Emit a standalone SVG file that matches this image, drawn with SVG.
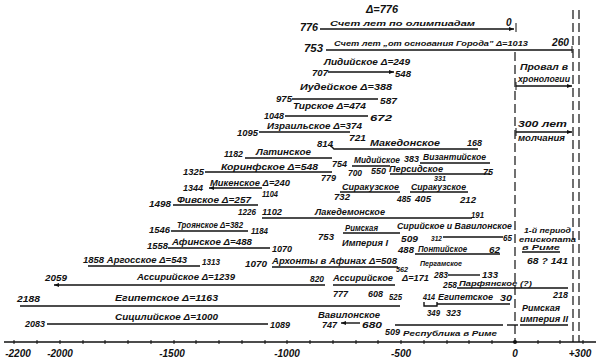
<svg xmlns="http://www.w3.org/2000/svg" width="600" height="363" viewBox="0 0 600 363">
<defs>
<marker id="ah" viewBox="0 0 10 10" refX="10" refY="5" markerWidth="6" markerHeight="5" orient="auto-start-reverse" markerUnits="userSpaceOnUse"><path d="M0,1 L10,5 L0,9 Z" fill="#111"/></marker>
<style>
.t{font-family:"Liberation Sans",Arial,sans-serif;font-style:italic;font-weight:bold;font-size:9px;fill:#111}
.s{font-size:8px}
.n{font-size:10px}
.b{stroke:#111;stroke-width:1.4;fill:none}
.d{stroke:#111;stroke-width:1.2;fill:none;stroke-dasharray:9 4}
.tk{stroke:#111;stroke-width:1}
</style>
</defs>
<rect width="600" height="363" fill="#fff"/>

<g id="axis">
<line class="b" x1="4" y1="342" x2="596" y2="342"/>
<g class="tk">
<line x1="14" y1="340" x2="14" y2="344"/><line x1="37" y1="340" x2="37" y2="344"/><line x1="60" y1="340" x2="60" y2="344"/><line x1="83" y1="340" x2="83" y2="344"/><line x1="105" y1="340" x2="105" y2="344"/><line x1="128" y1="340" x2="128" y2="344"/><line x1="151" y1="340" x2="151" y2="344"/><line x1="174" y1="340" x2="174" y2="344"/><line x1="196" y1="340" x2="196" y2="344"/><line x1="219" y1="340" x2="219" y2="344"/><line x1="242" y1="340" x2="242" y2="344"/><line x1="265" y1="340" x2="265" y2="344"/><line x1="287" y1="340" x2="287" y2="344"/><line x1="310" y1="340" x2="310" y2="344"/><line x1="333" y1="340" x2="333" y2="344"/><line x1="356" y1="340" x2="356" y2="344"/><line x1="378" y1="340" x2="378" y2="344"/><line x1="401" y1="340" x2="401" y2="344"/><line x1="424" y1="340" x2="424" y2="344"/><line x1="447" y1="340" x2="447" y2="344"/><line x1="469" y1="340" x2="469" y2="344"/><line x1="492" y1="340" x2="492" y2="344"/><line x1="538" y1="340" x2="538" y2="344"/><line x1="560" y1="340" x2="560" y2="344"/><line x1="583" y1="340" x2="583" y2="344"/>
</g>
<circle cx="515" cy="342" r="2" fill="#111"/>
<text class="t n" x="18" y="357" text-anchor="middle">-2200</text>
<text class="t n" x="60" y="357" text-anchor="middle">-2000</text>
<text class="t n" x="172" y="357" text-anchor="middle">-1500</text>
<text class="t n" x="287" y="357" text-anchor="middle">-1000</text>
<text class="t n" x="401" y="357" text-anchor="middle">-500</text>
<text class="t n" x="515" y="357" text-anchor="middle">0</text>
<text class="t n" x="580" y="357" text-anchor="middle">+300</text>
</g>

<g id="verticals">
<line class="d" x1="515" y1="52" x2="515" y2="342"/>
<line class="d" x1="573" y1="10" x2="573" y2="342"/>
<line class="d" x1="579" y1="10" x2="579" y2="342"/>
</g>

<g id="connectors">
<line class="b" x1="320" y1="29" x2="514" y2="29" marker-end="url(#ah)"/>
<line class="tk" x1="516" y1="23" x2="516" y2="32"/>
<line class="b" x1="326" y1="50" x2="572" y2="50"/>
<line class="tk" x1="572" y1="46" x2="572" y2="53"/>
<line class="b" x1="328" y1="72" x2="394" y2="72" marker-end="url(#ah)"/>
<line class="b" x1="292" y1="99" x2="378" y2="99"/>
<line class="b" x1="285" y1="116" x2="368" y2="116"/>
<line class="b" x1="259" y1="132" x2="350" y2="132"/>
<polyline class="b" points="330,145 334,149 478,149"/>
<line class="b" x1="245" y1="158" x2="332" y2="158"/>
<line class="b" x1="420" y1="163" x2="490" y2="163"/>
<line class="b" x1="205" y1="172" x2="332" y2="172"/>
<line class="b" x1="352" y1="166" x2="390" y2="166"/>
<line class="b" x1="390" y1="174" x2="490" y2="174"/>
<line class="b" x1="209" y1="188" x2="262" y2="188" marker-start="url(#ah)"/>
<line class="b" x1="340" y1="192" x2="400" y2="192"/>
<line class="b" x1="410" y1="192" x2="468" y2="192"/>
<line class="b" x1="173" y1="205" x2="258" y2="205"/>
<line class="b" x1="262" y1="218" x2="472" y2="218"/>
<line class="b" x1="171" y1="231" x2="248" y2="231"/>
<line class="b" x1="343" y1="233" x2="400" y2="233"/>
<line class="b" x1="443" y1="237" x2="503" y2="237"/>
<line class="b" x1="168" y1="248" x2="270" y2="248"/>
<line class="b" x1="415" y1="254" x2="500" y2="254"/>
<line class="b" x1="88" y1="266" x2="200" y2="266"/>
<line class="b" x1="272" y1="267" x2="398" y2="267"/>
<line class="b" x1="448" y1="275" x2="480" y2="275"/>
<line class="b" x1="54" y1="285" x2="325" y2="285" marker-start="url(#ah)"/>
<line class="b" x1="333" y1="285" x2="395" y2="285"/>
<line class="b" x1="457" y1="288" x2="568" y2="288"/>
<line class="b" x1="20" y1="306" x2="400" y2="306"/>
<line class="b" x1="437" y1="304" x2="510" y2="304"/>
<polyline class="b" points="424,302 424,306 437,306 437,302"/>
<line class="b" x1="47" y1="324" x2="268" y2="324"/>
<line class="b" x1="341" y1="323" x2="360" y2="323" marker-start="url(#ah)"/>
<line class="b" x1="395" y1="325" x2="503" y2="325"/>
<line class="b" x1="507" y1="325" x2="518" y2="325"/>
<line class="b" x1="520" y1="325" x2="568" y2="325"/>
<line class="tk" x1="516" y1="82" x2="516" y2="90"/>
<line class="b" x1="516" y1="86" x2="572" y2="86" marker-end="url(#ah)"/>
<line class="tk" x1="516" y1="128" x2="516" y2="136"/>
<line class="b" x1="516" y1="132" x2="572" y2="132" marker-end="url(#ah)"/>
<line class="b" x1="522" y1="252" x2="560" y2="252"/>
</g>

<g id="olympiads">
<text class="t n" x="366" y="13" textLength="32" lengthAdjust="spacingAndGlyphs">Δ=776</text>
<text class="t n" x="300" y="31" textLength="18" lengthAdjust="spacingAndGlyphs">776</text>
<text class="t s" x="330" y="26" textLength="145" lengthAdjust="spacingAndGlyphs">Счет лет по олимпиадам</text>
<text class="t n" x="506" y="26">0</text>
</g>
<g id="city">
<text class="t n" x="304" y="52" textLength="19" lengthAdjust="spacingAndGlyphs">753</text>
<text class="t s" x="334" y="46" textLength="194" lengthAdjust="spacingAndGlyphs">Счет лет „от основания Города" Δ=1013</text>
<text class="t n" x="552" y="46" textLength="17" lengthAdjust="spacingAndGlyphs">260</text>
</g>
<g id="lydia">
<text class="t" x="324" y="65" textLength="86" lengthAdjust="spacingAndGlyphs">Лидийское Δ=249</text>
<text class="t" x="312" y="76" textLength="16" lengthAdjust="spacingAndGlyphs">707</text>
<text class="t" x="395" y="77" textLength="16" lengthAdjust="spacingAndGlyphs">548</text>
</g>
<g id="judea">
<text class="t" x="300" y="90" textLength="92" lengthAdjust="spacingAndGlyphs">Иудейское Δ=388</text>
<text class="t" x="276" y="102" textLength="16" lengthAdjust="spacingAndGlyphs">975</text>
<text class="t" x="380" y="104" textLength="17" lengthAdjust="spacingAndGlyphs">587</text>
</g>
<g id="tyre">
<text class="t" x="293" y="109" textLength="73" lengthAdjust="spacingAndGlyphs">Тирское Δ=474</text>
<text class="t" x="264" y="119" textLength="20" lengthAdjust="spacingAndGlyphs">1048</text>
<text class="t" x="370" y="121" font-size="11" textLength="22" lengthAdjust="spacingAndGlyphs">672</text>
</g>
<g id="israel">
<text class="t" x="267" y="129" textLength="95" lengthAdjust="spacingAndGlyphs">Израильское Δ=374</text>
<text class="t" x="237" y="136" textLength="21" lengthAdjust="spacingAndGlyphs">1095</text>
<text class="t" x="349" y="141" textLength="17" lengthAdjust="spacingAndGlyphs">721</text>
</g>
<g id="macedonia">
<text class="t" x="317" y="147" textLength="16" lengthAdjust="spacingAndGlyphs">814</text>
<text class="t" x="370" y="146" textLength="70" lengthAdjust="spacingAndGlyphs">Македонское</text>
<text class="t" x="467" y="146" textLength="15" lengthAdjust="spacingAndGlyphs">168</text>
</g>
<g id="latin">
<text class="t" x="224" y="157" textLength="19" lengthAdjust="spacingAndGlyphs">1182</text>
<text class="t" x="256" y="155" textLength="55" lengthAdjust="spacingAndGlyphs">Латинское</text>
<text class="t" x="332" y="167" textLength="15" lengthAdjust="spacingAndGlyphs">754</text>
</g>
<g id="media">
<text class="t" x="354" y="163" textLength="46" lengthAdjust="spacingAndGlyphs">Мидийское</text>
<text class="t" x="348" y="176" textLength="14" lengthAdjust="spacingAndGlyphs">700</text>
<text class="t" x="371" y="174" textLength="15" lengthAdjust="spacingAndGlyphs">550</text>
</g>
<g id="byzantium">
<text class="t" x="404" y="162" textLength="15" lengthAdjust="spacingAndGlyphs">383</text>
<text class="t" x="423" y="160" textLength="63" lengthAdjust="spacingAndGlyphs">Византийское</text>
<text class="t" x="483" y="175" font-size="10">75</text>
</g>
<g id="persia">
<text class="t" x="389" y="172" textLength="54" lengthAdjust="spacingAndGlyphs">Персидское</text>
<text class="t s" x="434" y="181" textLength="12" lengthAdjust="spacingAndGlyphs">331</text>
</g>
<g id="corinth">
<text class="t" x="183" y="175" textLength="21" lengthAdjust="spacingAndGlyphs">1325</text>
<text class="t" x="221" y="170" textLength="97" lengthAdjust="spacingAndGlyphs">Коринфское Δ=548</text>
<text class="t" x="321" y="181" textLength="15" lengthAdjust="spacingAndGlyphs">779</text>
</g>
<g id="mycenae">
<text class="t" x="183" y="191" textLength="20" lengthAdjust="spacingAndGlyphs">1344</text>
<text class="t" x="210" y="186" textLength="80" lengthAdjust="spacingAndGlyphs">Микенское Δ=240</text>
<text class="t" x="262" y="197" textLength="16" lengthAdjust="spacingAndGlyphs">1104</text>
</g>
<g id="syracuse">
<text class="t" x="342" y="190" textLength="57" lengthAdjust="spacingAndGlyphs">Сиракузское</text>
<text class="t" x="411" y="190" textLength="55" lengthAdjust="spacingAndGlyphs">Сиракузское</text>
<text class="t" x="334" y="200" textLength="16" lengthAdjust="spacingAndGlyphs">732</text>
<text class="t" x="397" y="202" textLength="14" lengthAdjust="spacingAndGlyphs">485</text>
<text class="t" x="415" y="202" textLength="16" lengthAdjust="spacingAndGlyphs">405</text>
<text class="t" x="460" y="203" textLength="16" lengthAdjust="spacingAndGlyphs">212</text>
</g>
<g id="thebes">
<text class="t" x="149" y="207" textLength="22" lengthAdjust="spacingAndGlyphs">1498</text>
<text class="t" x="177" y="203" textLength="74" lengthAdjust="spacingAndGlyphs">Фивское Δ=257</text>
<text class="t" x="238" y="215" textLength="18" lengthAdjust="spacingAndGlyphs">1226</text>
</g>
<g id="sparta">
<text class="t" x="262" y="215" textLength="20" lengthAdjust="spacingAndGlyphs">1102</text>
<text class="t" x="315" y="215" textLength="70" lengthAdjust="spacingAndGlyphs">Лакедемонское</text>
<text class="t" x="471" y="218" textLength="13" lengthAdjust="spacingAndGlyphs">191</text>
</g>
<g id="troy">
<text class="t" x="149" y="233" textLength="21" lengthAdjust="spacingAndGlyphs">1546</text>
<text class="t" x="177" y="228" textLength="66" lengthAdjust="spacingAndGlyphs">Троянское Δ=382</text>
<text class="t" x="251" y="234" textLength="17" lengthAdjust="spacingAndGlyphs">1184</text>
</g>
<g id="rome1">
<text class="t" x="345" y="231" textLength="33" lengthAdjust="spacingAndGlyphs">Римская</text>
<text class="t" x="318" y="240" textLength="16" lengthAdjust="spacingAndGlyphs">753</text>
<text class="t" x="342" y="246" textLength="46" lengthAdjust="spacingAndGlyphs">Империя I</text>
<text class="t" x="401" y="242" textLength="17" lengthAdjust="spacingAndGlyphs">509</text>
</g>
<g id="syria">
<text class="t" x="397" y="229" textLength="115" lengthAdjust="spacingAndGlyphs">Сирийское и Вавилонское</text>
<text class="t s" x="431" y="241" textLength="11" lengthAdjust="spacingAndGlyphs">312</text>
<text class="t" x="503" y="241" textLength="9" lengthAdjust="spacingAndGlyphs">65</text>
</g>
<g id="athens">
<text class="t" x="147" y="249" textLength="21" lengthAdjust="spacingAndGlyphs">1558</text>
<text class="t" x="172" y="245" textLength="80" lengthAdjust="spacingAndGlyphs">Афинское Δ=488</text>
<text class="t" x="272" y="252" textLength="20" lengthAdjust="spacingAndGlyphs">1070</text>
</g>
<g id="pontus">
<text class="t" x="398" y="253" textLength="16" lengthAdjust="spacingAndGlyphs">488</text>
<text class="t" x="418" y="252" textLength="49" lengthAdjust="spacingAndGlyphs">Понтийское</text>
<text class="t" x="489" y="253" textLength="11" lengthAdjust="spacingAndGlyphs">62</text>
</g>
<g id="argos">
<text class="t" x="83" y="263" textLength="104" lengthAdjust="spacingAndGlyphs">1858 Аргосское Δ=543</text>
<text class="t" x="202" y="265" textLength="18" lengthAdjust="spacingAndGlyphs">1313</text>
</g>
<g id="archons">
<text class="t" x="245" y="267" textLength="22" lengthAdjust="spacingAndGlyphs">1070</text>
<text class="t" x="272" y="264" textLength="125" lengthAdjust="spacingAndGlyphs">Архонты в Афинах Δ=508</text>
<text class="t s" x="396" y="272" textLength="12" lengthAdjust="spacingAndGlyphs">562</text>
</g>
<g id="pergamon">
<text class="t s" x="420" y="266" textLength="42" lengthAdjust="spacingAndGlyphs">Пергамское</text>
<text class="t" x="434" y="278" textLength="14" lengthAdjust="spacingAndGlyphs">283</text>
<text class="t" x="482" y="278" textLength="16" lengthAdjust="spacingAndGlyphs">133</text>
</g>
<g id="assyria1">
<text class="t" x="45" y="281" textLength="22" lengthAdjust="spacingAndGlyphs">2059</text>
<text class="t" x="137" y="280" textLength="98" lengthAdjust="spacingAndGlyphs">Ассирийское Δ=1239</text>
<text class="t" x="310" y="282" textLength="14" lengthAdjust="spacingAndGlyphs">820</text>
</g>
<g id="assyria2">
<text class="t" x="333" y="281" textLength="60" lengthAdjust="spacingAndGlyphs">Ассирийское</text>
<text class="t" x="402" y="281" textLength="27" lengthAdjust="spacingAndGlyphs">Δ=171</text>
<text class="t" x="333" y="297" textLength="15" lengthAdjust="spacingAndGlyphs">777</text>
<text class="t" x="368" y="297" textLength="15" lengthAdjust="spacingAndGlyphs">608</text>
</g>
<g id="parthia">
<text class="t" x="443" y="288" textLength="14" lengthAdjust="spacingAndGlyphs">258</text>
<text class="t s" x="459" y="286" textLength="73" lengthAdjust="spacingAndGlyphs">Парфянское (?)</text>
<text class="t" x="553" y="298" textLength="15" lengthAdjust="spacingAndGlyphs">218</text>
</g>
<g id="egypt1">
<text class="t" x="17" y="302" textLength="23" lengthAdjust="spacingAndGlyphs">2188</text>
<text class="t" x="115" y="301" textLength="103" lengthAdjust="spacingAndGlyphs">Египетское Δ=1163</text>
</g>
<g id="egypt2">
<text class="t" x="389" y="300" textLength="13" lengthAdjust="spacingAndGlyphs">525</text>
<text class="t" x="423" y="300" textLength="12" lengthAdjust="spacingAndGlyphs">414</text>
<text class="t" x="438" y="300" textLength="55" lengthAdjust="spacingAndGlyphs">Египетское</text>
<text class="t" x="500" y="301" textLength="12" lengthAdjust="spacingAndGlyphs">30</text>
<text class="t" x="427" y="316" textLength="13" lengthAdjust="spacingAndGlyphs">349</text>
<text class="t" x="446" y="316" textLength="15" lengthAdjust="spacingAndGlyphs">323</text>
</g>
<g id="sicily">
<text class="t" x="25" y="327" textLength="20" lengthAdjust="spacingAndGlyphs">2083</text>
<text class="t" x="115" y="320" textLength="103" lengthAdjust="spacingAndGlyphs">Сицилийское Δ=1000</text>
<text class="t" x="270" y="328" textLength="20" lengthAdjust="spacingAndGlyphs">1089</text>
</g>
<g id="babylon">
<text class="t" x="318" y="318" textLength="62" lengthAdjust="spacingAndGlyphs">Вавилонское</text>
<text class="t" x="322" y="328" textLength="15" lengthAdjust="spacingAndGlyphs">747</text>
<text class="t" x="362" y="328" textLength="20" lengthAdjust="spacingAndGlyphs">680</text>
</g>
<g id="republic">
<text class="t" x="385" y="335" textLength="15" lengthAdjust="spacingAndGlyphs">509</text>
<text class="t s" x="403" y="336" textLength="94" lengthAdjust="spacingAndGlyphs">Республика в Риме</text>
</g>
<g id="rome2">
<text class="t" x="522" y="311" textLength="38" lengthAdjust="spacingAndGlyphs">Римская</text>
<text class="t" x="520" y="322" textLength="48" lengthAdjust="spacingAndGlyphs">империя II</text>
</g>
<g id="gap">
<text class="t" x="520" y="70" textLength="48" lengthAdjust="spacingAndGlyphs">Провал в</text>
<text class="t" x="518" y="82" textLength="52" lengthAdjust="spacingAndGlyphs">хронологии</text>
</g>
<g id="silence">
<text class="t" x="518" y="127" textLength="49" lengthAdjust="spacingAndGlyphs">300 лет</text>
<text class="t" x="518" y="141" textLength="47" lengthAdjust="spacingAndGlyphs">молчания</text>
</g>
<g id="bishops">
<text class="t s" x="524" y="233" textLength="47" lengthAdjust="spacingAndGlyphs">1-й период</text>
<text class="t s" x="519" y="242" textLength="57" lengthAdjust="spacingAndGlyphs">епископата</text>
<text class="t s" x="522" y="250" textLength="38" lengthAdjust="spacingAndGlyphs">в Риме</text>
<text class="t" x="527" y="264" textLength="41" lengthAdjust="spacingAndGlyphs">68 ? 141</text>
</g>
</svg>
